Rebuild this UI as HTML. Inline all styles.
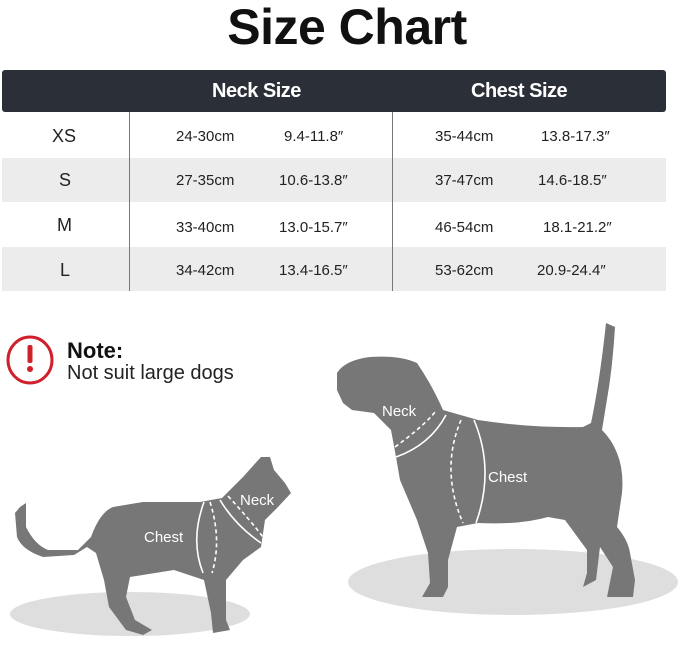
<!DOCTYPE html>
<html><head><meta charset="utf-8"><style>
body{margin:0;width:679px;height:650px;background:#fff;overflow:hidden;font-family:"Liberation Sans",sans-serif;position:relative}
.t{position:absolute;white-space:nowrap}
</style></head><body>
<div class="t" style="left:0;width:694px;top:-2px;text-align:center;font-size:50px;font-weight:bold;color:#111;letter-spacing:-0.5px">Size Chart</div>
<div style="position:absolute;left:2px;top:70px;width:664px;height:42px;background:#2b3038;border-radius:3px"></div>
<div class="t" style="left:212px;top:80px;font-size:20px;font-weight:bold;color:#fff;letter-spacing:-0.5px">Neck Size</div>
<div class="t" style="left:471px;top:80px;font-size:20px;font-weight:bold;color:#fff;letter-spacing:-0.5px">Chest Size</div>
<div style="position:absolute;left:2px;top:158px;width:664px;height:44px;background:#ececec"></div>
<div style="position:absolute;left:2px;top:247px;width:664px;height:44px;background:#ececec"></div>
<div style="position:absolute;left:129px;top:112px;width:1px;height:179px;background:#777"></div>
<div style="position:absolute;left:392px;top:112px;width:1px;height:179px;background:#777"></div>
<div style="font-size:15px;color:#222">
<div class="t" style="left:52px;top:126px;font-size:18px">XS</div>
<div class="t" style="left:59px;top:170px;font-size:18px">S</div>
<div class="t" style="left:57px;top:215px;font-size:18px">M</div>
<div class="t" style="left:60px;top:260px;font-size:18px">L</div>
<div class="t" style="left:176px;top:128px">24-30cm</div><div class="t" style="left:284px;top:128px">9.4-11.8″</div>
<div class="t" style="left:176px;top:172px">27-35cm</div><div class="t" style="left:279px;top:172px">10.6-13.8″</div>
<div class="t" style="left:176px;top:219px">33-40cm</div><div class="t" style="left:279px;top:219px">13.0-15.7″</div>
<div class="t" style="left:176px;top:262px">34-42cm</div><div class="t" style="left:279px;top:262px">13.4-16.5″</div>
<div class="t" style="left:435px;top:128px">35-44cm</div><div class="t" style="left:541px;top:128px">13.8-17.3″</div>
<div class="t" style="left:435px;top:172px">37-47cm</div><div class="t" style="left:538px;top:172px">14.6-18.5″</div>
<div class="t" style="left:435px;top:219px">46-54cm</div><div class="t" style="left:543px;top:219px">18.1-21.2″</div>
<div class="t" style="left:435px;top:262px">53-62cm</div><div class="t" style="left:537px;top:262px">20.9-24.4″</div>
</div>
<svg style="position:absolute;left:0;top:0" width="679" height="650">
<ellipse cx="30" cy="360" rx="22" ry="23" fill="none" stroke="#d0202a" stroke-width="3"/>
<rect x="27.5" y="345" width="5" height="18" rx="2" fill="#d0202a"/><circle cx="30" cy="369" r="3" fill="#d0202a"/>
<ellipse cx="513" cy="582" rx="165" ry="33" fill="#dedede"/>
<ellipse cx="130" cy="614" rx="120" ry="22" fill="#dedede"/>
<g fill="#777">
<path d="M337 373 Q345 360 370 357 Q400 355 417 363 Q432 385 443 410 L478 420 Q530 428 583 427 L591 423 Q600 380 606 323 L615 327 Q613 360 609 387 L602 430 Q612 440 617 453 Q624 470 622 493 L617 527 Q628 540 630 553 L635 580 L633 597 L607 597 L609 587 L613 567 L600 547 L596 580 L583 587 L587 573 L587 550 L565 520 L548 517 Q520 525 478 523 L457 527 L448 560 L448 587 L443 597 L422 597 L430 583 L428 553 L417 520 L400 480 L396 457 L391 430 L374 413 L352 410 L343 403 L337 390 Z"/>
<path d="M20 507 L26 503 L26 527 Q35 545 48 550 L78 550 L91 537 Q100 512 113 507 L143 502 L200 502 L222 498 L243 477 L261 457 L270 457 L274 470 L285 483 L291 493 L278 507 L265 520 L261 547 L243 560 L226 580 L226 620 L230 630 L213 633 L211 613 L204 580 L174 570 L130 577 L126 597 L135 620 L152 630 L143 635 L126 630 L109 607 L104 580 L96 553 L87 547 L74 555 L43 557 Q22 550 17 537 L15 513 Z"/>
</g>
<g fill="none" stroke="#fff" stroke-width="1.6">
<path d="M396 457 Q430 445 446 415"/><path d="M395 447 Q425 425 435 412" stroke-dasharray="4 3"/>
<path d="M474 420 Q495 470 476 523"/><path d="M461 420 Q440 470 463 523" stroke-dasharray="4 3"/>
<path d="M204 502 Q190 540 203 573"/><path d="M210 502 Q222 540 212 573" stroke-dasharray="4 3"/>
<path d="M220 500 Q235 525 261 543"/><path d="M228 496 Q250 520 263 537" stroke-dasharray="4 3"/>
</g>
</svg>
<div class="t" style="left:67px;top:338px;font-size:22px;font-weight:bold;color:#111">Note:</div>
<div class="t" style="left:67px;top:362px;font-size:20px;color:#222">Not suit large dogs</div>
<div class="t" style="left:382px;top:403px;font-size:15px;color:#fff">Neck</div>
<div class="t" style="left:488px;top:469px;font-size:15px;color:#fff">Chest</div>
<div class="t" style="left:240px;top:492px;font-size:15px;color:#fff">Neck</div>
<div class="t" style="left:144px;top:529px;font-size:15px;color:#fff">Chest</div>
</body></html>
